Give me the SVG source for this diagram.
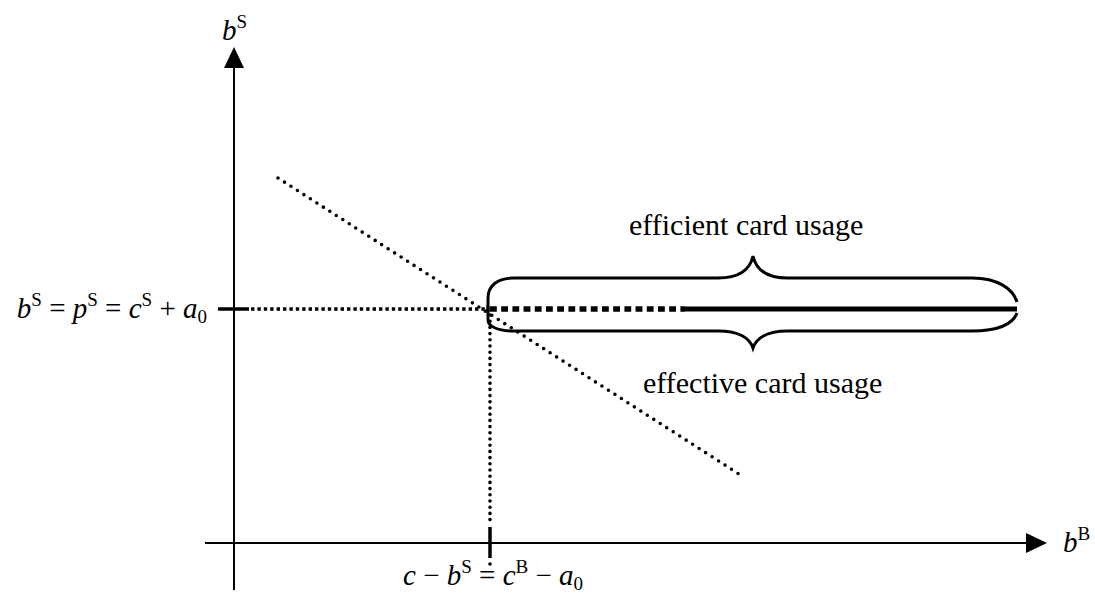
<svg xmlns="http://www.w3.org/2000/svg" width="1095" height="598" viewBox="0 0 1095 598">
<style>
.t{font-family:"Liberation Serif","Times New Roman",serif;font-size:29px;fill:#000}
.c{font-size:30px}
.i{font-style:italic}
.s{font-size:19px}
.ax{stroke:#000;stroke-width:2;fill:none}
.br{stroke:#000;stroke-width:3;fill:none}
</style>
<rect width="1095" height="598" fill="#fff"/>
<g id="axes">
<line class="ax" x1="234" y1="590" x2="234" y2="64"/>
<polygon points="234,47 224,68 244,68" fill="#000"/>
<line class="ax" x1="205" y1="543" x2="1030" y2="543"/>
<polygon points="1047,543 1026,533 1026,553" fill="#000"/>
</g>
<g id="connectors">
<line x1="218" y1="309" x2="249" y2="309" stroke="#000" stroke-width="3.5"/>
<line x1="490" y1="527" x2="490" y2="558" stroke="#000" stroke-width="3.5"/>
<line x1="251" y1="309" x2="488" y2="309" stroke="#000" stroke-width="3.5" stroke-dasharray="3.4 3"/>
<line x1="278" y1="178" x2="742" y2="476" stroke="#000" stroke-width="3.6" stroke-linecap="round" stroke-dasharray="0 7.7"/>
<line x1="490" y1="315" x2="490" y2="525" stroke="#000" stroke-width="3.6" stroke-linecap="round" stroke-dasharray="0 6.2"/>
<circle cx="490" cy="564" r="1.8" fill="#000"/>
<line x1="490" y1="309" x2="685" y2="309" stroke="#000" stroke-width="5.5" stroke-dasharray="6.8 4.4"/>
<line x1="685" y1="309" x2="1017" y2="309" stroke="#000" stroke-width="5"/>
</g>
<g id="brace-efficient">
<path class="br" d="M488,312 L488,298 C488,286 497,278 514,278 L718,278 C740,278 750,270 753,256 C756,270 766,278 788,278 L972,278 C998,278 1013,289 1017,302"/>
</g>
<g id="brace-effective">
<path class="br" d="M488,306 L488,320 C488,326 497,331 514,331 L718,331 C740,331 750,339 753,348 C756,339 766,331 788,331 L972,331 C998,331 1013,324 1017,313"/>
</g>
<g id="label-bS">
<text class="t" x="222" y="40"><tspan class="i">b</tspan><tspan class="s" dy="-12">S</tspan></text>
</g>
<g id="label-bB">
<text class="t" x="1063" y="552"><tspan class="i">b</tspan><tspan class="s" dy="-12">B</tspan></text>
</g>
<g id="label-left">
<text class="t" x="207" y="318" text-anchor="end"><tspan class="i">b</tspan><tspan class="s" dy="-12">S</tspan><tspan dy="12"> = </tspan><tspan class="i">p</tspan><tspan class="s" dy="-12">S</tspan><tspan dy="12"> = </tspan><tspan class="i">c</tspan><tspan class="s" dy="-12">S</tspan><tspan dy="12"> + </tspan><tspan class="i">a</tspan><tspan class="s" dy="5">0</tspan></text>
</g>
<g id="label-bottom">
<text class="t" x="403" y="585"><tspan class="i">c</tspan><tspan> − </tspan><tspan class="i">b</tspan><tspan class="s" dy="-12">S</tspan><tspan dy="12"> = </tspan><tspan class="i">c</tspan><tspan class="s" dy="-12">B</tspan><tspan dy="12"> − </tspan><tspan class="i">a</tspan><tspan class="s" dy="5">0</tspan></text>
</g>
<g id="label-efficient">
<text class="t c" x="629" y="235">efficient card usage</text>
</g>
<g id="label-effective">
<text class="t c" x="643" y="393">effective card usage</text>
</g>
</svg>
